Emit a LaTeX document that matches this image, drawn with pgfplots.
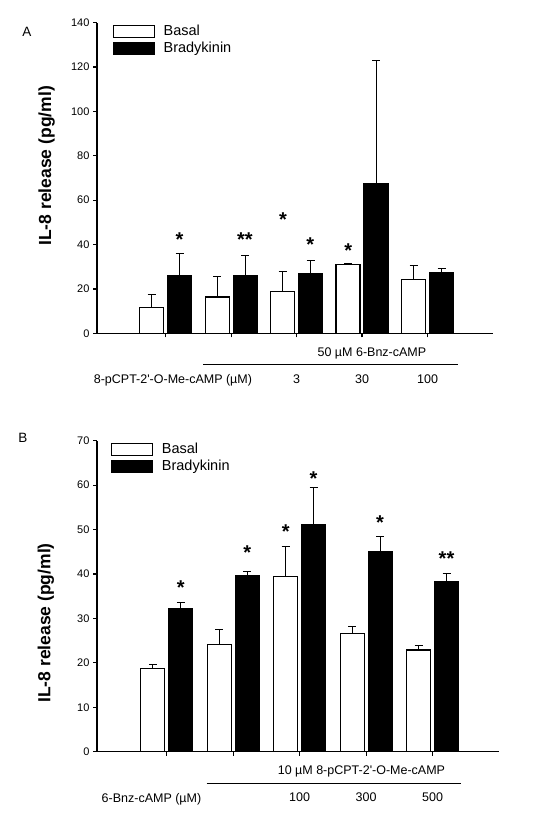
\documentclass[border=0pt]{standalone}
\usepackage{pgfplots}
\usepackage{pgfplotstable}
\pgfplotsset{compat=1.18}
\usepackage{fontspec}
\setmainfont{Liberation Sans}

\pgfplotstableread{
x basal berr brady bradyerr
0 11.7 6.0 26.0 10.1
1 16.4 9.4 25.8 9.4
2 18.9 8.9 27.0 5.9
3 31.1 0.4 67.6 55.3
4 24.3 6.2 27.3 1.8
}\dataA

\pgfplotstableread{
x basal berr brady bradyerr
0 18.8 0.9 32.3 1.2
1 24.2 3.3 39.7 0.8
2 39.5 6.6 51.2 8.3
3 26.6 1.5 45.0 3.5
4 22.9 0.9 38.2 1.8
}\dataB

\pgfplotstableread{
x y s
0.21 44.0 *
1.21 43.9 **
1.79 52.9 *
2.21 41.8 *
2.79 39.1 *
}\starsA

\pgfplotstableread{
x y s
0.21 37.9 *
1.21 45.8 *
1.79 50.5 *
2.21 62.4 *
3.21 52.5 *
4.21 44.4 **
}\starsB

\pgfplotsset{
  panel/.style={
    scale only axis,
    axis x line*=bottom, axis y line*=left,
    xmin=-1.05, xmax=5, ymin=0,
    xtick={0,1,2,3,4},
    tick align=outside, major tick length=4pt,
    axis line style={line width=1.2pt},
    every tick/.style={black, line width=1.2pt},
    clip=false,
    ybar=4pt, bar width=24pt,
    /pgf/number format/assume math mode=true,
    yticklabel style={font=\fontsize{11}{13}\selectfont},
    xticklabel style={font=\fontsize{12.5}{15}\selectfont, yshift=-34pt},
    ylabel style={font=\bfseries\fontsize{17.5}{20}\selectfont, anchor=center},
    legend style={draw=none, fill=none, at={(rel axis cs:0,1)}, anchor=north west,
      font=\fontsize{14.5}{17}\selectfont, inner sep=0pt, row sep=2pt,
      nodes={inner sep=1.5pt},
      /tikz/every odd column/.append style={column sep=7pt}},
    legend cell align=left,
  },
  barlegend/.style={legend image code/.code={\draw[##1, line width=1.2pt] (0pt,-5.8pt) rectangle (41pt,5.8pt);}},
  errstyle/.style={error bars/.cd, y dir=plus, y explicit, error mark=-,
    error bar style={line width=1pt, black, solid},
    error mark options={rotate=90, line width=1pt, mark size=4pt, black}},
  basalbar/.style={fill=white, draw=black, line width=1.2pt, barlegend, errstyle},
  bradybar/.style={fill=black, draw=black, line width=1.2pt, barlegend, errstyle},
  starplot/.style={sharp plot, draw=none, forget plot, bar shift=0pt, nodes near coords, point meta=explicit symbolic,
    nodes near coords style={font=\bfseries\fontsize{20}{20}\selectfont, anchor=center, yshift=-4pt}},
}

\begin{document}
\begin{tikzpicture}
\path[use as bounding box] (0,0) rectangle (558pt,-832pt);
\node[font=\fontsize{13.5}{15}\selectfont] at (27pt,-32pt) {A};
\node[font=\fontsize{13.5}{15}\selectfont] at (23pt,-438pt) {B};

\begin{axis}[panel,
  at={(97pt,-333.3pt)}, anchor=south west,
  width=396pt, height=310.6pt,
  ymax=140, ytick={0,20,...,140},
  xticklabels={,,3,30,100},
  ylabel={IL-8 release (pg/ml)},
  ylabel style={at={(axis description cs:-0.127,0.539)}},
  legend style={xshift=15.7pt, yshift=-1pt},
]
\addplot[basalbar] table[x=x, y=basal, y error=berr] {\dataA};
\addplot[bradybar] table[x=x, y=brady, y error=bradyerr] {\dataA};
\addplot[starplot] table[x=x, y=y, meta=s] {\starsA};
\legend{Basal, Bradykinin}
\node[font=\fontsize{12.5}{15}\selectfont] at ([yshift=-46.7pt]axis cs:0.11,0) {8-pCPT-2\textquotesingle-O-Me-cAMP (µM)};
\node[font=\fontsize{12.5}{15}\selectfont] at ([yshift=-19.7pt]axis cs:3.15,0) {50 µM 6-Bnz-cAMP};
\draw[line width=1pt] ([yshift=-31pt]axis cs:0.57,0) -- ([yshift=-31pt]axis cs:4.46,0);
\end{axis}

\begin{axis}[panel,
  at={(97pt,-751.7pt)}, anchor=south west,
  width=402pt, height=311pt,
  ymax=70, ytick={0,10,...,70},
  xticklabels={,,100,300,500},
  ylabel={IL-8 release (pg/ml)},
  ylabel style={at={(axis description cs:-0.127,0.414)}},
  legend style={xshift=14pt, yshift=-1pt},
]
\addplot[basalbar] table[x=x, y=basal, y error=berr] {\dataB};
\addplot[bradybar] table[x=x, y=brady, y error=bradyerr] {\dataB};
\addplot[starplot] table[x=x, y=y, meta=s] {\starsB};
\legend{Basal, Bradykinin}
\node[font=\fontsize{12.5}{15}\selectfont] at ([yshift=-47.3pt]axis cs:-0.23,0) {6-Bnz-cAMP (µM)};
\node[font=\fontsize{12.5}{15}\selectfont] at ([yshift=-19.3pt]axis cs:2.93,0) {10 µM 8-pCPT-2\textquotesingle-O-Me-cAMP};
\draw[line width=1pt] ([yshift=-31.6pt]axis cs:0.60,0) -- ([yshift=-31.6pt]axis cs:4.43,0);
\end{axis}
\end{tikzpicture}
\end{document}
